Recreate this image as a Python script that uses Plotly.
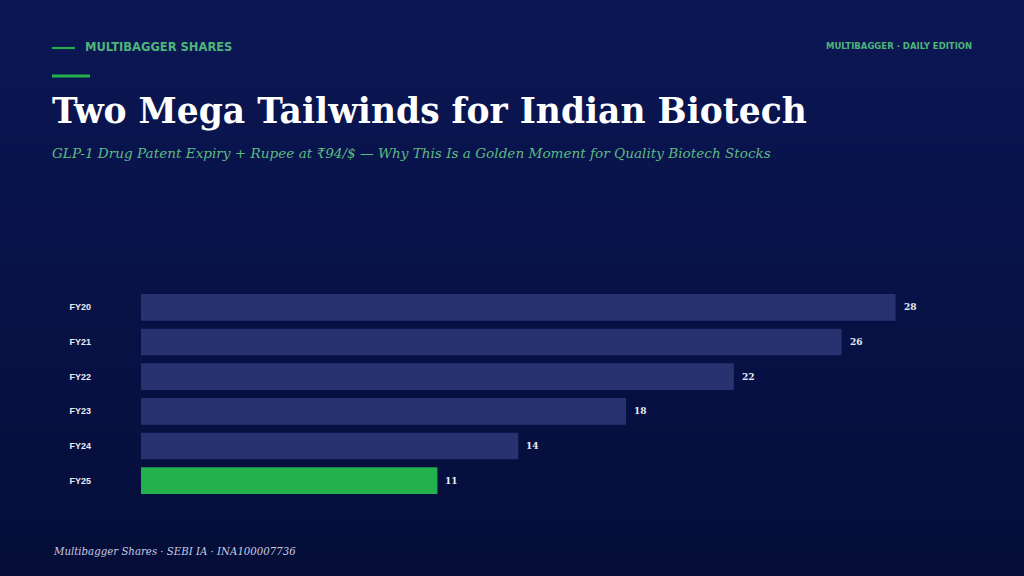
import plotly.graph_objects as go

categories = ["FY20", "FY21", "FY22", "FY23", "FY24", "FY25"]
values = [28, 26, 22, 18, 14, 11]
highlight = "FY25"

title = "Two Mega Tailwinds for Indian Biotech"
subtitle = "GLP-1 Drug Patent Expiry + Rupee at ₹94/$ — Why This Is a Golden Moment for Quality Biotech Stocks"
brand = "MULTIBAGGER SHARES"
edition = "MULTIBAGGER · DAILY EDITION"
footer = "Multibagger Shares · SEBI IA · INA100007736"

BAR = "#283270"
GREEN = "#22b14c"
colors = [GREEN if c == highlight else BAR for c in categories]

fig = go.Figure(go.Bar(
    x=values, y=categories, orientation="h",
    marker=dict(color=colors, line=dict(width=0)),
    width=0.77, hoverinfo="skip",
))

W, H = 1024, 576
L, R, T, B = 141, 53, 290, 78
pw, ph = W - L - R, H - T - B

def px(x):
    return (x - L) / pw

def py(y):
    return 1 - (y - T) / ph

# background gradient (top lighter navy to darker bottom)
shapes = []
n = 64
top = (11, 23, 85)
bot = (5, 13, 56)
for i in range(n):
    t = i / (n - 1)
    c = tuple(round(top[k] + (bot[k] - top[k]) * t) for k in range(3))
    y0 = H * i / n
    y1 = H * (i + 1) / n + 1
    shapes.append(dict(type="rect", xref="paper", yref="paper", layer="below",
                       x0=px(-5), x1=px(W + 5), y0=py(y1), y1=py(y0),
                       line=dict(width=0), fillcolor="rgb(%d,%d,%d)" % c))

shapes.append(dict(type="line", xref="paper", yref="paper", x0=px(52), x1=px(75), y0=py(48), y1=py(48),
                   line=dict(color=GREEN, width=2)))
shapes.append(dict(type="line", xref="paper", yref="paper", x0=px(52), x1=px(90), y0=py(76), y1=py(76),
                   line=dict(color=GREEN, width=3)))

annotations = [
    dict(text=brand, x=px(83), y=py(47), xanchor="left", yanchor="middle",
         font=dict(family="DejaVu Sans", size=11.5, color="#4fb47a", weight="bold")),
    dict(text=edition, x=px(974), y=py(46), xanchor="right", yanchor="middle",
         font=dict(family="DejaVu Sans", size=8.5, color="#4fb47a", weight="bold")),
    dict(text="<b>" + title + "</b>", x=px(50), y=py(111), xanchor="left", yanchor="middle",
         font=dict(family="DejaVu Serif", size=34.5, color="#ffffff")),
    dict(text="<i>" + subtitle + "</i>", x=px(50), y=py(153), xanchor="left", yanchor="middle",
         font=dict(family="DejaVu Serif", size=13.6, color="#5fb982")),
    dict(text="<i>" + footer + "</i>", x=px(51), y=py(551), xanchor="left", yanchor="middle",
         font=dict(family="DejaVu Serif", size=10.2, color="#c5cce0")),
]
for a in annotations:
    a.update(xref="paper", yref="paper", showarrow=False)

for c, v in zip(categories, values):
    annotations.append(dict(x=v, y=c, xref="x", yref="y", text="<b>%d</b>" % v, showarrow=False,
                            xanchor="left", yanchor="middle", xshift=6,
                            font=dict(family="DejaVu Serif", size=9, color="#e8ecf5")))

fig.update_layout(
    width=W, height=H,
    margin=dict(l=L, r=R, t=T, b=B),
    paper_bgcolor="#08124a", plot_bgcolor="rgba(0,0,0,0)",
    shapes=shapes, annotations=annotations,
    showlegend=False, bargap=0.23,
    xaxis=dict(range=[0, 30.8], visible=False, fixedrange=True),
    yaxis=dict(categoryorder="array", categoryarray=categories, autorange="reversed",
               showgrid=False, zeroline=False, showline=False, ticks="",
               ticklabelstandoff=49,
               tickfont=dict(family="Liberation Sans", size=9, color="#e8ecf5", weight="bold"),
               fixedrange=True),
)

fig.write_html("out.html", config={"displayModeBar": False},
               post_script="document.body.style.margin='0';document.body.style.overflow='hidden';")
